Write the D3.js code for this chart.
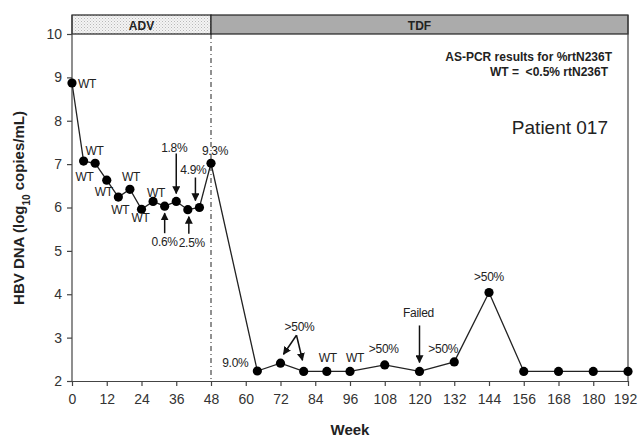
<!DOCTYPE html>
<html>
<head>
<meta charset="utf-8">
<script src="https://cdn.jsdelivr.net/npm/d3@7"></script>
<style>
  body { margin: 0; background: #fff; }
  svg { font-family: "Liberation Sans", Arial, sans-serif; }
  .axis text { font-size: 14px; fill: #333; }
  .axis path, .axis line { stroke: #444; }
</style>
</head>
<body>
<svg id="chart" width="638" height="437"></svg>
<script>
// data
var weeks = [0, 4, 8, 12, 16, 20, 24, 28, 32, 36, 40, 44, 48, 64, 72, 80, 88, 96, 108, 120, 132, 144, 156, 168, 180, 192];
var hbvDna = [8.87, 7.07, 7.02, 6.63, 6.24, 6.42, 5.96, 6.14, 6.03, 6.14, 5.95, 6.0, 7.02,
              2.23, 2.41, 2.22, 2.22, 2.22, 2.37, 2.22, 2.44, 4.04, 2.22, 2.22, 2.22, 2.22];
var weekTicks = [0, 12, 24, 36, 48, 60, 72, 84, 96, 108, 120, 132, 144, 156, 168, 180, 192];
var logTicks = [2, 3, 4, 5, 6, 7, 8, 9, 10];
var phases = [{name: 'ADV', from: 0, to: 48}, {name: 'TDF', from: 48, to: 192}];

// AS-PCR results per visit
var labelWeeks = [0, 4, 4, 12, 16, 20, 24, 28, 36, 44, 48, 32, 40, 64, 72, 88, 96, 108, 120, 132, 144];
var labelTexts = ['WT', 'WT', 'WT', 'WT', 'WT', 'WT', 'WT', 'WT', '1.8%', '4.9%', '9.3%', '0.6%', '2.5%',
                  '9.0%', '>50%', 'WT', 'WT', '>50%', 'Failed', '>50%', '>50%'];

// placement of those labels relative to their point (px)
var labelOffsets = [[6, 1, 'start'], [11, -10], [1, 16], [-3, 12], [2, 13], [1, -12], [-1, 9], [3, -9],
                    [-2, -54], [-6, -38], [4, -12], [0, 36], [4, 33], [-22, -8], [19, -36],
                    [1, -14], [5, -14], [-1, -16], [-1, -59], [-11, -13], [0, -16]];
// arrows: [label index, from dx, from dy, to dx, to dy]
var arrows = [[8, 0, -48, 0, -8], [9, -4, -30, -4, -7], [11, 0, 27, 0, 7], [12, 1, 24, 1, 7],
              [14, 16, -28, 3, -9], [14, 16, -28, 22, -3], [18, 0, -46, 0, -9]];

var svg = d3.select('#chart');
var margin = {left: 72, right: 10, top: 34, bottom: 56};

var x = d3.scaleLinear().domain([0, 192]).range([margin.left, 628]);
var y = d3.scaleLinear().domain([2, 10]).range([381, 34]);

var defs = svg.append('defs');
var pat = defs.append('pattern').attr('id', 'dots').attr('patternUnits', 'userSpaceOnUse')
  .attr('width', 3).attr('height', 3);
pat.append('rect').attr('width', 3).attr('height', 3).attr('fill', '#f4f4f4');
pat.append('rect').attr('width', 1).attr('height', 1).attr('fill', '#b8b8b8');
pat.append('rect').attr('x', 1.5).attr('y', 1.5).attr('width', 1).attr('height', 1).attr('fill', '#c8c8c8');

defs.append('marker').attr('id', 'head').attr('viewBox', '0 0 10 10')
  .attr('refX', 9).attr('refY', 5).attr('markerWidth', 8).attr('markerHeight', 8)
  .attr('markerUnits', 'userSpaceOnUse').attr('orient', 'auto')
  .append('path').attr('d', 'M0,0 L10,5 L0,10 z').attr('fill', '#111');

// treatment bands
var bandTop = 15, bandBot = y(10);
svg.selectAll('.band').data(phases).enter().append('rect')
  .attr('x', function(d){ return x(d.from); })
  .attr('y', bandTop)
  .attr('width', function(d){ return x(d.to) - x(d.from); })
  .attr('height', bandBot - bandTop)
  .attr('fill', function(d, i){ return i == 0 ? 'url(#dots)' : '#ababab'; })
  .attr('stroke', '#222').attr('stroke-width', 1.2);
svg.selectAll('.bandtext').data(phases).enter().append('text')
  .attr('x', function(d){ return (x(d.from) + x(d.to)) / 2; })
  .attr('y', 30)
  .attr('text-anchor', 'middle')
  .style('font-size', '12px').style('font-weight', 'bold').attr('fill', '#222')
  .text(function(d){ return d.name; });

// right frame
svg.append('line').attr('x1', x(192)).attr('x2', x(192)).attr('y1', bandTop).attr('y2', y(2))
  .attr('stroke', '#444').attr('stroke-width', 1.2);

// switch line
svg.append('line').attr('x1', x(48)).attr('x2', x(48)).attr('y1', bandBot).attr('y2', y(2))
  .attr('stroke', '#222').attr('stroke-width', 1).attr('stroke-dasharray', '5,3,1,3');

var xAxis = svg.append('g').attr('class', 'axis').attr('transform', 'translate(0,' + y(2) + ')')
  .call(d3.axisBottom(x).tickValues(weekTicks).tickSize(5).tickPadding(8).tickSizeOuter(0));
// keep the last label inside the window
xAxis.selectAll('.tick text').filter(function(d){ return d == 192; }).attr('dx', -3);
var yAxis = svg.append('g').attr('class', 'axis').attr('transform', 'translate(' + margin.left + ',0)')
  .call(d3.axisLeft(y).tickValues(logTicks).tickSize(5).tickPadding(5).tickSizeOuter(0));
yAxis.select('.domain').attr('d', 'M0,' + y(2) + 'V' + bandTop);
svg.selectAll('.axis path, .axis line').attr('stroke-width', 1.2);

var pts = weeks.map(function(w, i){ return [w, hbvDna[i]]; });
svg.append('path').datum(pts)
  .attr('d', d3.line().x(function(d){ return x(d[0]); }).y(function(d){ return y(d[1]); }))
  .attr('fill', 'none').attr('stroke', '#222').attr('stroke-width', 1.3);
svg.selectAll('.pt').data(pts).enter().append('circle')
  .attr('cx', function(d){ return x(d[0]); })
  .attr('cy', function(d){ return y(d[1]); })
  .attr('r', 4.6).attr('fill', '#000');

function ptOf(w) {
  var i = weeks.indexOf(w);
  return [x(w), y(hbvDna[i])];
}

svg.selectAll('.ann').data(labelTexts).enter().append('text')
  .attr('x', function(d, i){ return ptOf(labelWeeks[i])[0] + labelOffsets[i][0]; })
  .attr('y', function(d, i){ return ptOf(labelWeeks[i])[1] + labelOffsets[i][1]; })
  .attr('dy', '0.35em')
  .attr('text-anchor', function(d, i){ return labelOffsets[i][2] || 'middle'; })
  .style('font-size', '12px').style('letter-spacing', '-0.3px').attr('fill', '#222')
  .text(function(d){ return d; });

svg.selectAll('.arrow').data(arrows).enter().append('line')
  .attr('x1', function(d){ return ptOf(labelWeeks[d[0]])[0] + d[1]; })
  .attr('y1', function(d){ return ptOf(labelWeeks[d[0]])[1] + d[2]; })
  .attr('x2', function(d){ return ptOf(labelWeeks[d[0]])[0] + d[3]; })
  .attr('y2', function(d){ return ptOf(labelWeeks[d[0]])[1] + d[4]; })
  .attr('stroke', '#111').attr('stroke-width', 1.5).attr('marker-end', 'url(#head)');

// notes
svg.append('text').attr('x', 612).attr('y', 61).attr('text-anchor', 'end')
  .style('font-size', '12px').style('font-weight', 'bold').attr('fill', '#222')
  .text('AS-PCR results for %rtN236T');
svg.append('text').attr('x', 608).attr('y', 76).attr('text-anchor', 'end')
  .style('font-size', '12px').style('font-weight', 'bold').attr('fill', '#222')
  .attr('xml:space', 'preserve')
  .text('WT =  <0.5% rtN236T');
svg.append('text').attr('x', 608).attr('y', 134).attr('text-anchor', 'end')
  .style('font-size', '19px').attr('fill', '#222')
  .text('Patient 017');

// axis titles
svg.append('text').attr('x', (x(0) + x(192)) / 2).attr('y', 435).attr('text-anchor', 'middle')
  .style('font-size', '15px').style('font-weight', 'bold').attr('fill', '#222').text('Week');
var yt = svg.append('text').attr('transform', 'translate(24,208) rotate(-90)').attr('text-anchor', 'middle')
  .style('font-size', '15px').style('font-weight', 'bold').attr('fill', '#222');
yt.append('tspan').text('HBV DNA (log');
yt.append('tspan').attr('baseline-shift', 'sub').style('font-size', '10px').text('10');
yt.append('tspan').text(' copies/mL)');
</script>
</body>
</html>
